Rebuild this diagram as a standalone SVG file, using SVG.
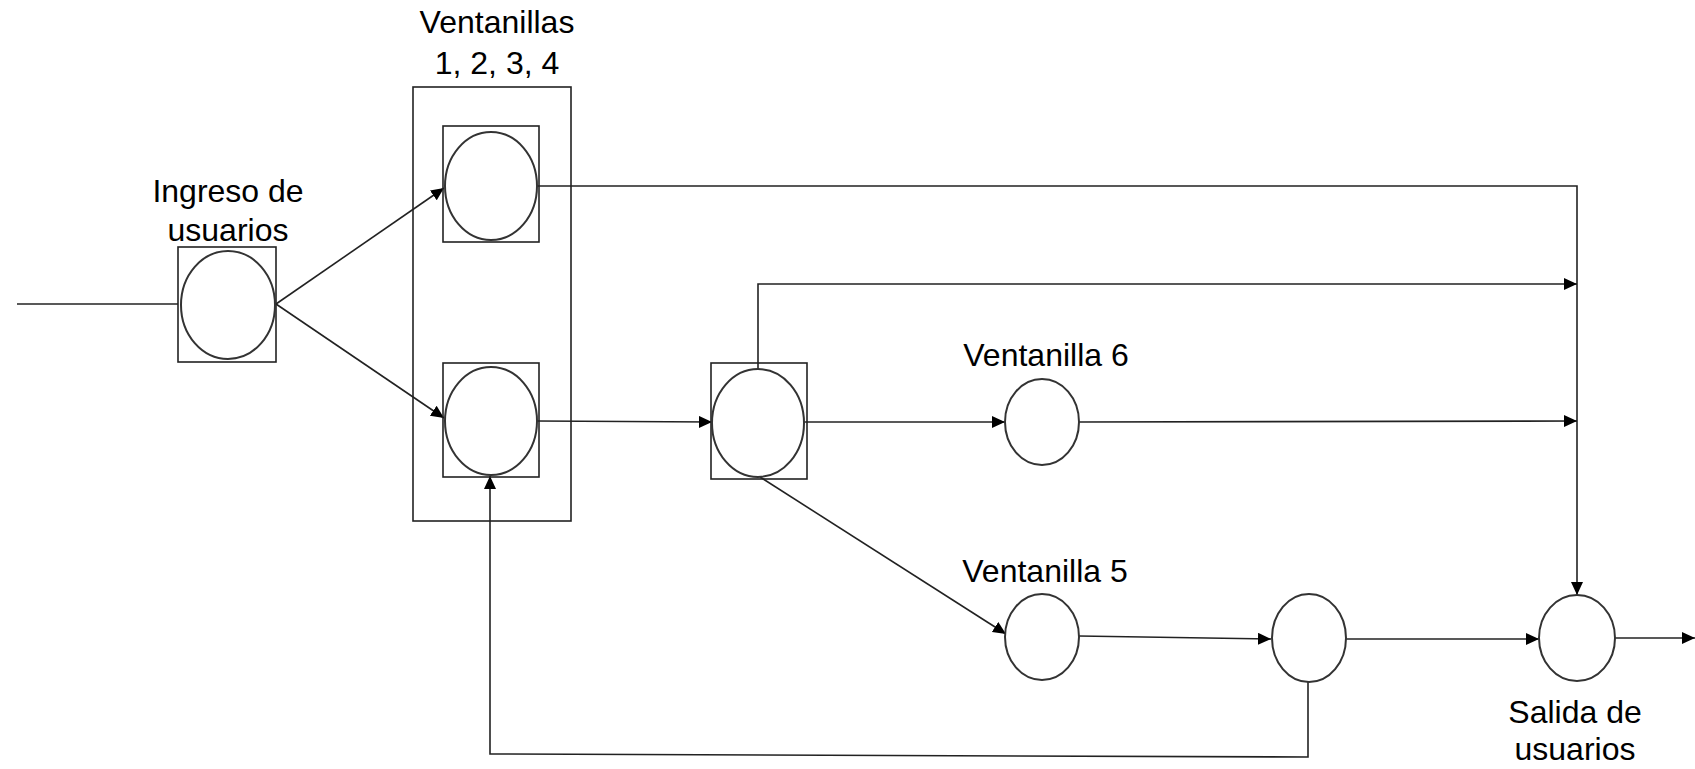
<svg xmlns="http://www.w3.org/2000/svg" width="1695" height="769" viewBox="0 0 1695 769">
<style>
.box{fill:none;stroke:#222;stroke-width:1.6}
.node{fill:#fff;stroke:#333;stroke-width:2}
.ln{fill:none;stroke:#222;stroke-width:1.6}
.lbl{font-family:"Liberation Sans",Arial,sans-serif;font-size:32px;fill:#000;text-anchor:middle}
</style>
<defs>
<marker id="arr" markerUnits="userSpaceOnUse" markerWidth="14" markerHeight="12" refX="13" refY="6" orient="auto">
<path d="M0,0 L13,6 L0,12 Z" fill="#000"/>
</marker>
</defs>
<rect width="1695" height="769" fill="#fff"/>
<g id="connectors">
<line class="ln" x1="17" y1="304" x2="178" y2="304"/>
<line class="ln" x1="276" y1="304" x2="444" y2="188" marker-end="url(#arr)"/>
<line class="ln" x1="276" y1="304" x2="444" y2="418" marker-end="url(#arr)"/>
<polyline class="ln" points="537,186 1577,186 1577,595" marker-end="url(#arr)"/>
<polyline class="ln" points="758,369 758,284 1577,284" marker-end="url(#arr)"/>
<line class="ln" x1="537" y1="421" x2="712" y2="422" marker-end="url(#arr)"/>
<line class="ln" x1="804" y1="422" x2="1005" y2="422" marker-end="url(#arr)"/>
<line class="ln" x1="1079" y1="422" x2="1577" y2="421" marker-end="url(#arr)"/>
<line class="ln" x1="760" y1="477" x2="1006" y2="634" marker-end="url(#arr)"/>
<line class="ln" x1="1079" y1="636" x2="1271" y2="639" marker-end="url(#arr)"/>
<line class="ln" x1="1346" y1="639" x2="1539" y2="639" marker-end="url(#arr)"/>
<line class="ln" x1="1615" y1="638" x2="1695" y2="638" marker-end="url(#arr)"/>
<polyline class="ln" points="1308,682 1308,757 490,754 490,476" marker-end="url(#arr)"/>
</g>
<g id="ingreso">
<rect class="box" x="178" y="247" width="98" height="115"/>
<ellipse class="node" cx="228" cy="305" rx="47" ry="54"/>
<text class="lbl" x="228" y="202">Ingreso de</text>
<text class="lbl" x="228" y="241">usuarios</text>
</g>
<g id="ventanillas-1-4">
<rect class="box" x="413" y="87" width="158" height="434"/>
<text class="lbl" x="497" y="33">Ventanillas</text>
<text class="lbl" x="497" y="74">1, 2, 3, 4</text>
</g>
<g id="ventanilla-top">
<rect class="box" x="443" y="126" width="96" height="116"/>
<ellipse class="node" cx="491" cy="186" rx="46" ry="54"/>
</g>
<g id="ventanilla-bottom">
<rect class="box" x="443" y="363" width="96" height="114"/>
<ellipse class="node" cx="491" cy="421" rx="46" ry="54"/>
</g>
<g id="distribucion">
<rect class="box" x="711" y="363" width="96" height="116"/>
<ellipse class="node" cx="758" cy="423" rx="46" ry="54"/>
</g>
<g id="ventanilla-6">
<ellipse class="node" cx="1042" cy="422" rx="37" ry="43"/>
<text class="lbl" x="1046" y="366">Ventanilla 6</text>
</g>
<g id="ventanilla-5">
<ellipse class="node" cx="1042" cy="637" rx="37" ry="43"/>
<text class="lbl" x="1045" y="582">Ventanilla 5</text>
</g>
<g id="union">
<ellipse class="node" cx="1309" cy="638" rx="37" ry="44"/>
</g>
<g id="salida">
<ellipse class="node" cx="1577" cy="638" rx="38" ry="43"/>
<text class="lbl" x="1575" y="723">Salida de</text>
<text class="lbl" x="1575" y="760">usuarios</text>
</g>
</svg>
